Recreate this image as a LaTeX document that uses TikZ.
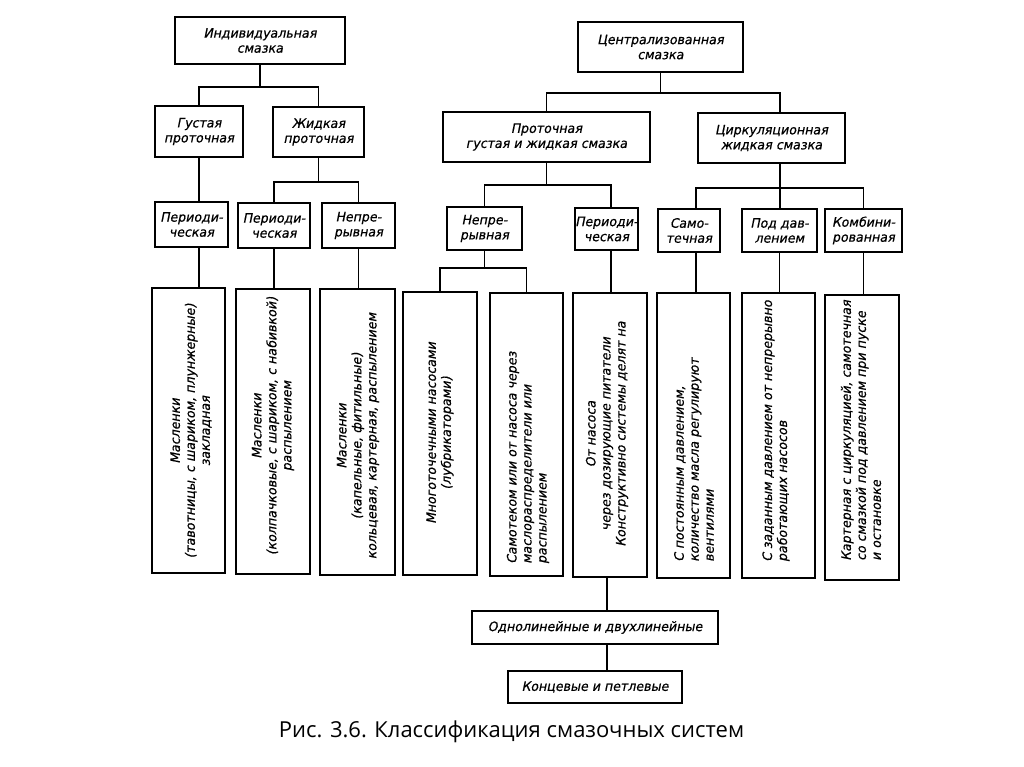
\documentclass[tikz,border=0pt]{standalone}
\usepackage{fontspec}
\newfontfamily\gost[FakeSlant=0.2, FakeStretch=0.97, FakeBold=0.6]{DejaVu Sans}
\newfontfamily\capfont{Open Sans}
\begin{document}
\begin{tikzpicture}[x=1pt,y=-1pt,
  box/.style={draw, line width=1.8pt, inner sep=0pt, fill=white},
  txt/.style={font=\gost\fontsize{13}{15}\selectfont, align=center, inner sep=0pt},
  vtxt/.style={txt, rotate=90},
  conn/.style={line width=1.8pt}]
\useasboundingbox[fill=white] (0,0) rectangle (1024,767);

% top level boxes
\node[box, txt, minimum width=170pt, minimum height=47pt] (ind) at (260,40.5) {Индивидуальная\\смазка};
\node[box, txt, minimum width=88pt, minimum height=51pt] (gus) at (199,131.5) {Густая\\проточная};
\node[box, txt, minimum width=91pt, minimum height=50pt] (zhid) at (318.5,132) {Жидкая\\проточная};
\node[box, txt, minimum width=73pt, minimum height=45pt] (per1) at (191.5,224.5) {Периоди-\\ческая};
\node[box, txt, minimum width=72pt, minimum height=45pt] (per2) at (274,225.5) {Периоди-\\ческая};
\node[box, txt, minimum width=73pt, minimum height=45pt] (nep1) at (358.5,225.5) {Непре-\\рывная};

\node[box, txt, minimum width=165pt, minimum height=50pt] (cen) at (660.5,47) {Централизованная\\смазка};
\node[box, txt, minimum width=207pt, minimum height=50pt] (pro) at (546.5,137) {Проточная\\густая и жидкая смазка};
\node[box, txt, minimum width=147pt, minimum height=50pt] (cir) at (771.5,138) {Циркуляционная\\жидкая смазка};
\node[box, txt, minimum width=75pt, minimum height=43pt] (nep2) at (484.5,228.5) {Непре-\\рывная};
\node[box, txt, minimum width=63pt, minimum height=42pt] (per3) at (606.5,229) {Периоди-\\ческая};
\node[box, txt, minimum width=62pt, minimum height=43pt] (sam) at (689,230.5) {Само-\\течная};
\node[box, txt, minimum width=75pt, minimum height=43pt] (pod) at (779.5,230.5) {Под дав-\\лением};
\node[box, txt, minimum width=77pt, minimum height=43pt] (kom) at (863.5,230.5) {Комбини-\\рованная};

% tall boxes
\node[box, minimum width=73pt, minimum height=285pt] (b1) at (188.5,430.5) {};
\node[box, minimum width=74pt, minimum height=285pt] (b2) at (273,431.5) {};
\node[box, minimum width=75pt, minimum height=286pt] (b3) at (357.5,432) {};
\node[box, minimum width=74pt, minimum height=283pt] (b4) at (440,433.5) {};
\node[box, minimum width=73pt, minimum height=283pt] (b5) at (526.5,434.5) {};
\node[box, minimum width=74pt, minimum height=284pt] (b6) at (610,435) {};
\node[box, minimum width=73pt, minimum height=285pt] (b7) at (693.5,435.5) {};
\node[box, minimum width=73pt, minimum height=285pt] (b8) at (778.5,435.5) {};
\node[box, minimum width=74pt, minimum height=285pt] (b9) at (862,437.5) {};

\node[vtxt] (t1) at (191,431) {Масленки\\(тавотницы, с шариком, плунжерные)\\закладная};
\node[vtxt] (t2) at (273,426) {Масленки\\(колпачковые, с шариком, с набивкой)\\распылением};
\node[vtxt] (t3) at (358,436) {Масленки\\(капельные, фитильные)\\кольцевая, картерная, распылением};
\node[vtxt] (t4) at (440,433) {Многоточечными насосами\\(лубрикаторами)};
\node[vtxt, align=left, anchor=west] (t5) at (528,564) {Самотеком или от насоса через\\маслораспределители или\\распылением};
\node[vtxt] (t6) at (607,434) {От насоса\\через дозирующие питатели\\Конструктивно системы делят на};
\node[vtxt, align=left, anchor=west] (t7) at (694,562) {С постоянным давлением,\\количество масла регулируют\\вентилями};
\node[vtxt, align=left, anchor=west] (t8) at (776,562) {С заданным давлением от непрерывно\\работающих насосов};
\node[vtxt, align=left, anchor=west] (t9) at (861,561) {Картерная с циркуляцией, самотечная\\со смазкой под давлением при пуске\\и остановке};

% bottom boxes
\node[box, txt, minimum width=246pt, minimum height=33pt] (odn) at (595,627.5) {Однолинейные и двухлинейные};
\node[box, txt, minimum width=174pt, minimum height=32pt] (kon) at (595,687) {Концевые и петлевые};

\node[font=\capfont\fontsize{22}{26}\selectfont, inner sep=0pt] (cap) at (511.5,732) {Рис. 3.6. Классификация смазочных систем};

% junction coordinates
\coordinate (jA) at (0,87);
\coordinate (jB) at (0,182);
\coordinate (jC) at (0,93);
\coordinate (jD) at (0,185);
\coordinate (jE) at (0,188);
\coordinate (jF) at (0,268);
\coordinate (xc) at (780,0);
\coordinate (x6) at (611,0);
\coordinate (x7) at (696,0);
\coordinate (xo) at (607,0);

% connectors
\draw[conn] (ind.south) -- (ind.south |- jA);
\draw[conn] (gus.north) -- (gus.north |- jA) -- (zhid.north |- jA) -- (zhid.north);
\draw[conn] (gus.south) -- (gus.south |- per1.north);
\draw[conn] (per1.south -| gus.south) -- (gus.south |- b1.north);
\draw[conn] (zhid.south) -- (zhid.south |- jB);
\draw[conn] (per2.north) -- (per2.north |- jB) -- (nep1.north |- jB) -- (nep1.north);
\draw[conn] (per2.south) -- (per2.south |- b2.north);
\draw[conn] (nep1.south) -- (nep1.south |- b3.north);

\draw[conn] (cen.south) -- (cen.south |- jC);
\draw[conn] (pro.north) -- (pro.north |- jC) -- (xc |- jC) -- (cir.north -| xc);
\draw[conn] (pro.south) -- (pro.south |- jD);
\draw[conn] (nep2.north) -- (nep2.north |- jD) -- (x6 |- jD) -- (per3.north -| x6);
\draw[conn] (nep2.south) -- (nep2.south |- jF);
\draw[conn] (b4.north) -- (b4.north |- jF) -- (b5.north |- jF) -- (b5.north);
\draw[conn] (per3.south -| x6) -- (b6.north -| x6);
\draw[conn] (cir.south -| xc) -- (xc |- jE);
\draw[conn] (sam.north -| x7) -- (x7 |- jE) -- (kom.north |- jE) -- (kom.north);
\draw[conn] (xc |- jE) -- (pod.north -| xc);
\draw[conn] (sam.south -| x7) -- (b7.north -| x7);
\draw[conn] (pod.south) -- (pod.south |- b8.north);
\draw[conn] (kom.south) -- (kom.south |- b9.north);
\draw[conn] (b6.south -| xo) -- (odn.north -| xo);
\draw[conn] (odn.south -| xo) -- (kon.north -| xo);
\end{tikzpicture}
\end{document}
